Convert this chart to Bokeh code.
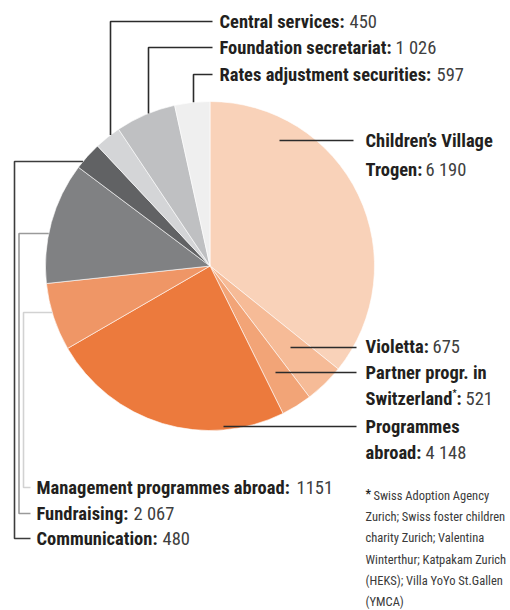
import math
from bokeh.plotting import figure
from bokeh.models import Range1d, ColumnDataSource
from bokeh.core.properties import value
from bokeh.embed import file_html
from bokeh.resources import INLINE

# ---- data (clockwise from 12 o'clock) ----
categories = ["Children's Village Trogen", "Violetta", "Partner progr. in Switzerland",
              "Programmes abroad", "Management programmes abroad", "Fundraising",
              "Communication", "Central services", "Foundation secretariat",
              "Rates adjustment securities"]
values = [6190, 675, 521, 4148, 1151, 2067, 480, 450, 1026, 597]
value_labels = ["6 190", "675", "521", "4 148", "1151", "2 067", "480", "450", "1 026", "597"]
colors = ["#f9d2b9", "#f6bb97", "#f2a477", "#ec7a3d", "#ef9666", "#808183",
          "#616264", "#d4d5d7", "#bfc0c2", "#efefef"]
footnote = ["Swiss Adoption Agency", "Zurich; Swiss foster children",
            "charity Zurich; Valentina", "Winterthur; Katpakam Zurich",
            "(HEKS); Villa YoYo St.Gallen", "(YMCA)"]

W, H = 510, 610
CX, CY, R = 209.5, 265.5, 164.5
FONT = value("Roboto Condensed")
DARK = "#231f20"
NUMC = "#404040"
FS = "18.5px"


def Y(py):
    return H - py


p = figure(width=W, height=H, output_backend="svg", toolbar_location=None,
           x_range=Range1d(0, W), y_range=Range1d(0, H), min_border=0)
p.axis.visible = False
p.grid.visible = False
p.outline_line_color = None
p.background_fill_color = "white"
p.border_fill_color = "white"

# ---- pie ----
total = float(sum(values))
starts, ends = [], []
acc = 0.0
for v in values:
    starts.append(math.pi / 2 - acc / total * 2 * math.pi)
    acc += v
    ends.append(math.pi / 2 - acc / total * 2 * math.pi)
src = ColumnDataSource(dict(cat=categories, val=values, start=starts, end=ends, color=colors))
p.wedge(x=CX, y=Y(CY), radius=R, start_angle="start", end_angle="end", direction="clock",
        fill_color="color", line_color="white", line_width=0.6, source=src)


def edge_y_top(x):
    return CY - math.sqrt(R * R - (x - CX) ** 2)


def edge_x_left(y):
    return CX - math.sqrt(R * R - (y - CY) ** 2)


LW = 1.6
# ---- top leader lines ----
for lx, ly in [(110, 21), (148, 47), (193, 74)]:
    ey = edge_y_top(lx)
    p.line([lx, lx, 212], [Y(ey), Y(ly), Y(ly)], line_color="#2b2b2b", line_width=LW)

# ---- left brackets ----
for bx, sy, ly, col in [(23, 312, 487, "#d2d2d2"), (18.5, 233, 513, "#9a9a9a"), (14, 161, 538, "#3c3c3c")]:
    ex = edge_x_left(sy)
    p.line([ex, bx, bx, 30], [Y(sy), Y(sy), Y(ly), Y(ly)], line_color=col, line_width=LW)

# ---- right leader lines ----
for x0, x1, ly in [(279, 353, 140), (290, 356, 347), (275, 356, 372), (223, 356, 426)]:
    p.line([x0, x1], [Y(ly), Y(ly)], line_color="#2b2b2b", line_width=LW)

# ---- labels ----
def bold(x, y, t, size=FS):
    p.text(x=[x], y=[Y(y)], text=[t], text_font=FONT, text_font_style="bold",
           text_font_size=size, text_color=DARK, text_baseline="middle", text_align="left")


def num(x, y, t, size=FS):
    p.text(x=[x], y=[Y(y)], text=[t], text_font=FONT, text_font_style="normal",
           text_font_size=size, text_color=NUMC, text_baseline="middle", text_align="left")


# top
bold(219, 21, "Central services:")
num(349, 21, value_labels[7])
bold(219, 47, "Foundation secretariat:")
num(395, 47, value_labels[8])
bold(219, 74, "Rates adjustment securities:")
num(436, 74, value_labels[9])
# right
bold(365, 140, "Children\u2019s Village")
bold(365, 169, "Trogen:")
num(425, 169, value_labels[0])
bold(365, 346, "Violetta:")
num(432, 346, value_labels[1])
bold(365, 372, "Partner progr. in")
bold(365, 398, "Switzerland")
bold(452, 392, "*", size="9px")
bold(456, 398, ":")
num(465, 398, value_labels[2])
bold(365, 426, "Programmes")
bold(365, 452, "abroad:")
num(425, 452, value_labels[3])
# left
bold(36, 487, "Management programmes abroad:")
num(296, 487, value_labels[4])
bold(36, 513, "Fundraising:")
num(133, 513, value_labels[5])
bold(36, 538, "Communication:")
num(162, 538, value_labels[6])

# footnote
p.text(x=[365], y=[Y(493)], text=["*"], text_font=FONT, text_font_style="bold",
       text_font_size="12px", text_color=DARK, text_baseline="middle", text_align="left")
fx = [373] + [365] * (len(footnote) - 1)
fy = [Y(495 + 21.2 * i) for i in range(len(footnote))]
p.text(x=fx, y=fy, text=footnote, text_font=FONT, text_font_style="normal",
       text_font_size="12.5px", text_color="#3a3a3a", text_baseline="middle", text_align="left")

open("out.html", "w").write(file_html(p, INLINE))
